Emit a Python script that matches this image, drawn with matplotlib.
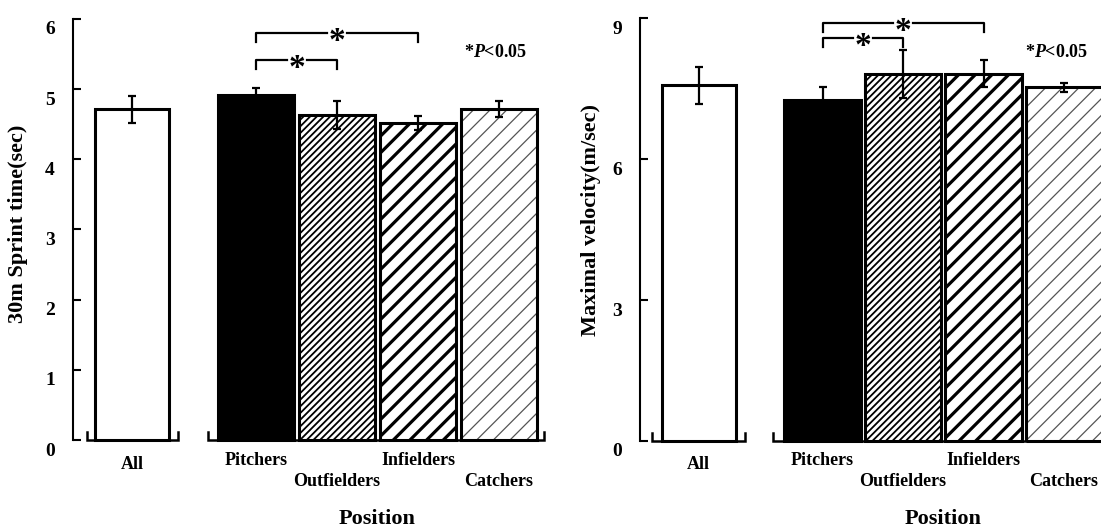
import matplotlib
matplotlib.use("Agg")
import matplotlib.pyplot as plt
from matplotlib.transforms import ScaledTranslation, blended_transform_factory

plt.rcParams["font.family"] = ["Liberation Serif", "DejaVu Serif"]
plt.rcParams["font.weight"] = "bold"
plt.rcParams["mathtext.fontset"] = "custom"
plt.rcParams["mathtext.rm"] = "Liberation Serif:bold"
plt.rcParams["mathtext.it"] = "Liberation Serif:italic:bold"

W, H = 1101, 527

# data (mean and SD)
POSITIONS = ["Pitchers", "Outfielders", "Infielders", "Catchers"]

SPRINT_ALL = 4.71
SPRINT_ALL_SD = 0.19
SPRINT_MEAN = [4.92, 4.63, 4.52, 4.72]
SPRINT_SD = [0.10, 0.20, 0.10, 0.11]
SPRINT_SIG = [(0, 2, 5.80), (0, 1, 5.41)]
SPRINT_TICKS = [0, 1, 2, 3, 4, 5, 6]

VEL_ALL = 7.57
VEL_ALL_SD = 0.39
VEL_MEAN = [7.26, 7.82, 7.82, 7.53]
VEL_SD = [0.27, 0.51, 0.29, 0.09]
VEL_SIG = [(0, 2, 8.90), (0, 1, 8.57)]
VEL_TICKS = [0, 3, 6, 9]

# face, hatch, hatch colour, hatch linewidth
BAR_STYLES = [
    ("black", None, "black", 1.0),
    ("white", "/////", "black", 1.3),
    ("white", "//", "black", 2.3),
    ("white", "//", "#555555", 0.9),
]


def px(x, y):
    return x / W, 1 - y / H


def hatched_bar(ax, x, h, width, style):
    face, hatch, hcolor, hlw = style
    with plt.rc_context({"hatch.linewidth": hlw}):
        fill = ax.bar(x, h, width, color=face, edgecolor=hcolor, linewidth=0,
                      hatch=hatch, zorder=2)[0]
    if hatch and hasattr(fill, "set_hatch_linewidth"):
        fill.set_hatch_linewidth(hlw)
    ax.bar(x, h, width, fill=False, edgecolor="black", linewidth=2.2, zorder=3)


def draw_panel(fig, panel):
    ax = fig.add_axes(panel["rect"])
    ax.set_xlim(panel["xlim"])
    ax.set_ylim(panel["ylim"])
    ax.patch.set_visible(False)
    ppu = panel["ppu"]
    for side in ("top", "right", "bottom"):
        ax.spines[side].set_visible(False)
    ax.spines["left"].set_position(("data", panel["yaxis_x"]))
    ax.spines["left"].set_bounds(panel["ticks"][0], panel["ticks"][-1])
    ax.spines["left"].set_linewidth(1.5)
    ax.set_xticks([])
    ax.set_yticks(panel["ticks"])
    ax.tick_params(axis="y", direction="in", length=5.5, width=1.5, labelleft=False)

    lab_tr = ax.transData + ScaledTranslation(-0.18, -0.09, fig.dpi_scale_trans)
    for t in panel["ticks"]:
        ax.text(panel["yaxis_x"], t, str(t), transform=lab_tr, ha="right",
                va="center_baseline", fontsize=14, fontweight="bold")

    # "All" bar
    all_x = panel["all_x"]
    ax.bar(all_x, panel["all"], 0.92, color="white", edgecolor="black", linewidth=2.2, zorder=3)
    ax.errorbar(all_x, panel["all"], yerr=panel["all_sd"], fmt="none", ecolor="black",
                elinewidth=1.6, capsize=2.8, capthick=1.6, zorder=4)

    xs = list(range(len(POSITIONS)))
    for x, m, style in zip(xs, panel["means"], BAR_STYLES):
        hatched_bar(ax, x, m, 0.95, style)
    ax.errorbar(xs, panel["means"], yerr=panel["sds"], fmt="none", ecolor="black",
                elinewidth=1.6, capsize=2.8, capthick=1.6, zorder=4)

    # baseline brackets
    tick = 8 / ppu
    for x0, x1 in (panel["all_bracket"], panel["group_bracket"]):
        ax.plot([x0, x0, x1, x1], [tick, 0, 0, tick], color="black", lw=1.8,
                solid_joinstyle="miter", clip_on=False, zorder=5)

    # significance brackets
    drop = 9 / ppu
    gap = 10 / 81
    star_tr = ax.transData + ScaledTranslation(0, -0.17, fig.dpi_scale_trans)
    for a, b, y in panel["sig"]:
        mid = (a + b) / 2
        ax.plot([a, a, mid - gap], [y - drop, y, y], color="black", lw=1.6, zorder=5)
        ax.plot([mid + gap, b, b], [y, y, y - drop], color="black", lw=1.6, zorder=5)
        ax.text(mid, y, "*", transform=star_tr, ha="center", va="baseline",
                fontsize=24, fontweight="bold")

    # category labels
    tr = blended_transform_factory(ax.transData, fig.transFigure)
    ax.text(all_x, 1 - 469 / H, "All", transform=tr, ha="center", va="baseline",
            fontsize=13, fontweight="bold")
    rows = [465, 486, 465, 486]
    for x, name, row in zip(xs, POSITIONS, rows):
        ax.text(x, 1 - row / H, name, transform=tr, ha="center", va="baseline",
                fontsize=13, fontweight="bold")
    ax.text(1.5, 1 - 524 / H, "Position", transform=tr, ha="center", va="baseline",
            fontsize=16, fontweight="bold")

    fig.text(*px(*panel["ylabel_xy"]), panel["ylabel"], rotation=90, ha="center",
             va="center", fontsize=16, fontweight="bold")
    fig.text(*px(*panel["p_xy"]), r"*$\mathit{P}$<0.05", ha="left", va="baseline",
             fontsize=13, fontweight="bold")
    return ax


fig = plt.figure(figsize=(W / 100, H / 100), dpi=100, facecolor="white")

left = dict(
    rect=(0, 0, 560 / W, 1),
    xlim=((0 - 256) / 81, (560 - 256) / 81),
    ylim=(-(H - 440) / 70.17, 440 / 70.17),
    ppu=70.17,
    yaxis_x=-2.26,
    all_x=-1.53,
    all_bracket=(-2.09, -0.96),
    group_bracket=(-0.59, 3.56),
    ticks=SPRINT_TICKS,
    all=SPRINT_ALL,
    all_sd=SPRINT_ALL_SD,
    means=SPRINT_MEAN,
    sds=SPRINT_SD,
    sig=SPRINT_SIG,
    ylabel="30m Sprint time(sec)",
    ylabel_xy=(18, 224),
    p_xy=(464, 57),
)

right = dict(
    rect=(560 / W, 0, (W - 560) / W, 1),
    xlim=((560 - 822.5) / 80.5, (W - 822.5) / 80.5),
    ylim=(-(H - 441) / 46.97, 441 / 46.97),
    ppu=46.97,
    yaxis_x=-2.27,
    all_x=-1.54,
    all_bracket=(-2.12, -0.96),
    group_bracket=(-0.61, 3.7),
    ticks=VEL_TICKS,
    all=VEL_ALL,
    all_sd=VEL_ALL_SD,
    means=VEL_MEAN,
    sds=VEL_SD,
    sig=VEL_SIG,
    ylabel="Maximal velocity(m/sec)",
    ylabel_xy=(591, 220),
    p_xy=(1025, 57),
)

draw_panel(fig, left)
draw_panel(fig, right)

fig.savefig("out.png", dpi=100, facecolor="white")
